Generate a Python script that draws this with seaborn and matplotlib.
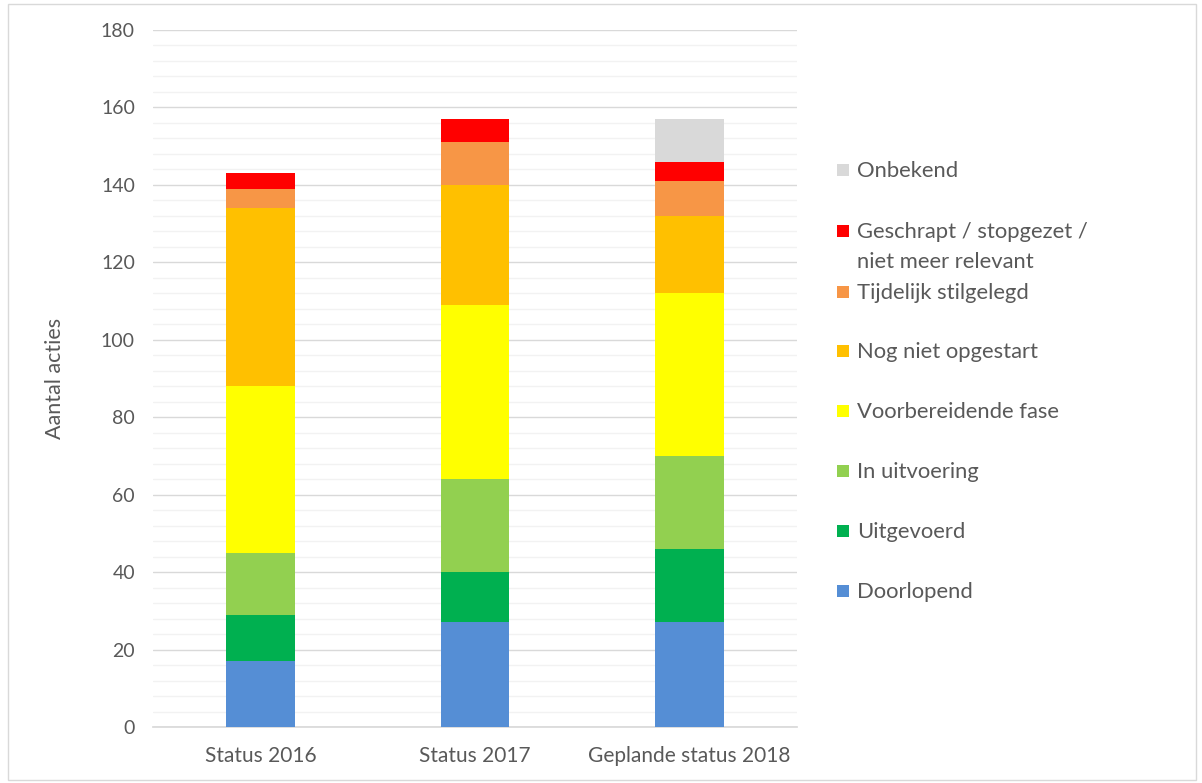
import matplotlib
matplotlib.use("Agg")
import matplotlib.pyplot as plt
import seaborn as sns
import pandas as pd
import numpy as np
from matplotlib.patches import Rectangle

categories = ["Status 2016", "Status 2017", "Geplande status 2018"]
series_names = ["Doorlopend", "Uitgevoerd", "In uitvoering", "Voorbereidende fase",
                "Nog niet opgestart", "Tijdelijk stilgelegd",
                "Geschrapt / stopgezet /\nniet meer relevant", "Onbekend"]
doorlopend = [17, 27, 27]
uitgevoerd = [12, 13, 19]
in_uitvoering = [16, 24, 24]
voorbereidend = [43, 45, 42]
nog_niet = [46, 31, 20]
tijdelijk = [5, 11, 9]
geschrapt = [4, 6, 5]
onbekend = [0, 0, 11]
colors = ["#558ED5", "#00B050", "#92D050", "#FFFF00", "#FFC000", "#F79646", "#FF0000", "#D9D9D9"]
yticks = [0, 20, 40, 60, 80, 100, 120, 140, 160, 180]

series_values = [doorlopend, uitgevoerd, in_uitvoering, voorbereidend,
                 nog_niet, tijdelijk, geschrapt, onbekend]

sns.set_theme(style="white")
plt.rcParams["font.family"] = ["Lato", "DejaVu Sans"]

TXT = "#595959"
fig = plt.figure(figsize=(12.02, 7.83), dpi=100)
ax = fig.add_axes([153/1202, 1-727/783, (797-153)/1202, (727-30)/783])

cum = np.cumsum(np.array(series_values), axis=0)
# draw from the top series down so lower segments cover upper cumulative bars
for i in range(len(series_names)-1, -1, -1):
    df = pd.DataFrame({"cat": categories, "val": cum[i]})
    sns.barplot(data=df, x="cat", y="val", color=colors[i], saturation=1,
                width=0.32, ax=ax, linewidth=0, zorder=3)

ax.set_ylim(0, 180)
ax.set_yticks(yticks)
ax.set_yticks(np.arange(0, 181, 4), minor=True)
ax.grid(axis="y", which="major", color="#D9D9D9", linewidth=1.0, zorder=0)
ax.grid(axis="y", which="minor", color="#F2F2F2", linewidth=1.0, zorder=0)
ax.set_axisbelow(True)
for s in ["top", "right", "left"]:
    ax.spines[s].set_visible(False)
ax.spines["bottom"].set_color("#D9D9D9")
ax.tick_params(axis="both", which="both", length=0)
ax.tick_params(axis="y", labelsize=14, labelcolor=TXT, pad=13)
ax.tick_params(axis="x", labelsize=15, labelcolor=TXT, pad=14)
ax.set_xlabel("")
ax.set_ylabel("Aantal acties", fontsize=15.5, color=TXT, labelpad=26)

# manual legend (Excel style, top to bottom)
leg_y = [170, 231, 292, 351, 411, 471, 531, 591]
for j, idx in enumerate(range(len(series_names)-1, -1, -1)):
    y = leg_y[j]
    fig.patches.append(Rectangle((837/1202, 1-(y+6)/783), 12/1202, 12/783,
                                 transform=fig.transFigure, facecolor=colors[idx],
                                 edgecolor="none"))
    fig.text(857/1202, 1-(y-9)/783, series_names[idx], fontsize=15.8,
             color=TXT, va="top", ha="left", linespacing=1.62)

fig.patches.append(Rectangle((8/1202, 3/783), 1188/1202, 776/783,
                             transform=fig.transFigure, facecolor="none",
                             edgecolor="#D9D9D9", linewidth=1))

fig.savefig("out.png", dpi=100)
